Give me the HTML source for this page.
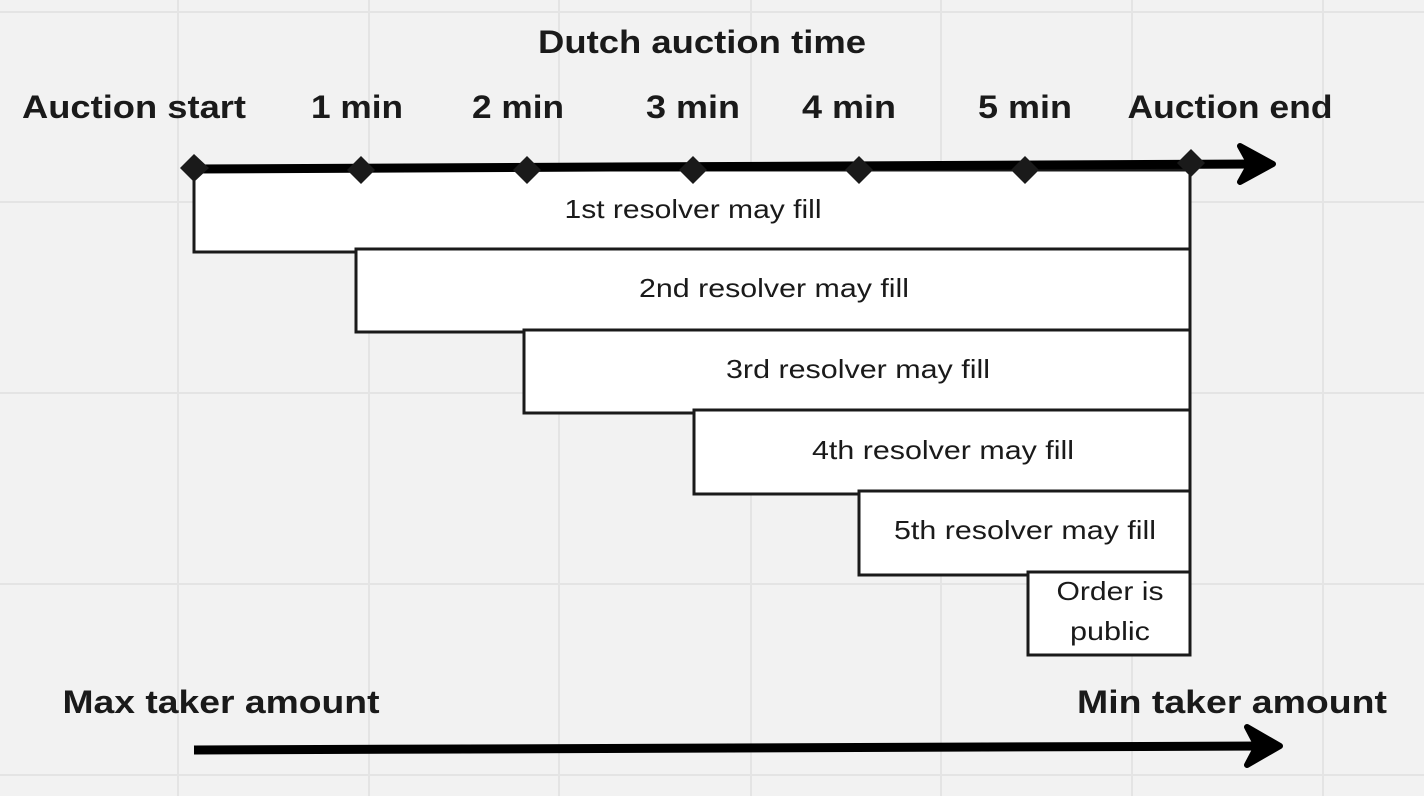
<!DOCTYPE html>
<html><head><meta charset="utf-8"><style>
html,body{margin:0;padding:0;background:#f2f2f2;}
svg{display:block;}
.b{font-family:"Liberation Sans",sans-serif;font-weight:bold;font-size:32px;fill:#1a1a1a;text-anchor:middle;}
.r{font-family:"Liberation Sans",sans-serif;font-size:26px;fill:#1a1a1a;text-anchor:middle;}
.box{fill:#fff;stroke:#1a1a1a;stroke-width:3;}
</style></head><body>
<svg width="1424" height="796" viewBox="0 0 1424 796" xmlns="http://www.w3.org/2000/svg">
<g stroke="#e4e4e4" stroke-width="2">
<line x1="178" y1="0" x2="178" y2="796"/><line x1="369" y1="0" x2="369" y2="796"/>
<line x1="559" y1="0" x2="559" y2="796"/><line x1="751" y1="0" x2="751" y2="796"/>
<line x1="941" y1="0" x2="941" y2="796"/><line x1="1132" y1="0" x2="1132" y2="796"/>
<line x1="1323" y1="0" x2="1323" y2="796"/>
<line x1="0" y1="12" x2="1424" y2="12"/><line x1="0" y1="202" x2="1424" y2="202"/>
<line x1="0" y1="393" x2="1424" y2="393"/><line x1="0" y1="584" x2="1424" y2="584"/>
<line x1="0" y1="775" x2="1424" y2="775"/>
</g>
<text class="b" x="702" y="53" textLength="328" lengthAdjust="spacingAndGlyphs">Dutch auction time</text>
<text class="b" x="134" y="118" textLength="224" lengthAdjust="spacingAndGlyphs">Auction start</text>
<text class="b" x="357" y="118" textLength="92" lengthAdjust="spacingAndGlyphs">1 min</text>
<text class="b" x="518" y="118" textLength="92" lengthAdjust="spacingAndGlyphs">2 min</text>
<text class="b" x="693" y="118" textLength="94" lengthAdjust="spacingAndGlyphs">3 min</text>
<text class="b" x="849" y="118" textLength="94" lengthAdjust="spacingAndGlyphs">4 min</text>
<text class="b" x="1025" y="118" textLength="94" lengthAdjust="spacingAndGlyphs">5 min</text>
<text class="b" x="1230" y="118" textLength="205" lengthAdjust="spacingAndGlyphs">Auction end</text>
<rect class="box" x="194" y="170" width="996" height="82"/>
<rect class="box" x="356" y="249" width="834" height="83"/>
<rect class="box" x="524" y="330" width="666" height="83"/>
<rect class="box" x="694" y="410" width="496" height="84"/>
<rect class="box" x="859" y="491" width="331" height="84"/>
<rect class="box" x="1028" y="572" width="162" height="83"/>
<text class="r" x="693" y="218" textLength="257" lengthAdjust="spacingAndGlyphs">1st resolver may fill</text>
<text class="r" x="774" y="297" textLength="270" lengthAdjust="spacingAndGlyphs">2nd resolver may fill</text>
<text class="r" x="858" y="378" textLength="264" lengthAdjust="spacingAndGlyphs">3rd resolver may fill</text>
<text class="r" x="943" y="459" textLength="262" lengthAdjust="spacingAndGlyphs">4th resolver may fill</text>
<text class="r" x="1025" y="539" textLength="262" lengthAdjust="spacingAndGlyphs">5th resolver may fill</text>
<text class="r" x="1110" y="600" textLength="107" lengthAdjust="spacingAndGlyphs">Order is</text>
<text class="r" x="1110" y="640" textLength="80" lengthAdjust="spacingAndGlyphs">public</text>
<line x1="194" y1="169" x2="1258" y2="164" stroke="#000" stroke-width="9"/>
<path d="M1240,146 L1273,164 L1240,182 L1250,164 Z" fill="#000" stroke="#000" stroke-width="6" stroke-linejoin="round"/>
<g fill="#1a1a1a">
<polygon points="194,154 209,168 194,182 180,168"/>
<polygon points="361,156 375,170 361,184 347,170"/>
<polygon points="527,156 541,170 527,184 513,170"/>
<polygon points="693,156 707,170 693,184 679,170"/>
<polygon points="859,156 873,170 859,184 845,170"/>
<polygon points="1025,156 1039,170 1025,184 1011,170"/>
<polygon points="1191,149 1205,163 1191,177 1177,163"/>
</g>
<text class="b" x="221" y="713" textLength="317" lengthAdjust="spacingAndGlyphs">Max taker amount</text>
<text class="b" x="1232" y="713" textLength="310" lengthAdjust="spacingAndGlyphs">Min taker amount</text>
<line x1="194" y1="750" x2="1265" y2="746" stroke="#000" stroke-width="9"/>
<path d="M1247,727 L1280,746 L1247,765 L1257,746 Z" fill="#000" stroke="#000" stroke-width="6" stroke-linejoin="round"/>
</svg>
</body></html>
